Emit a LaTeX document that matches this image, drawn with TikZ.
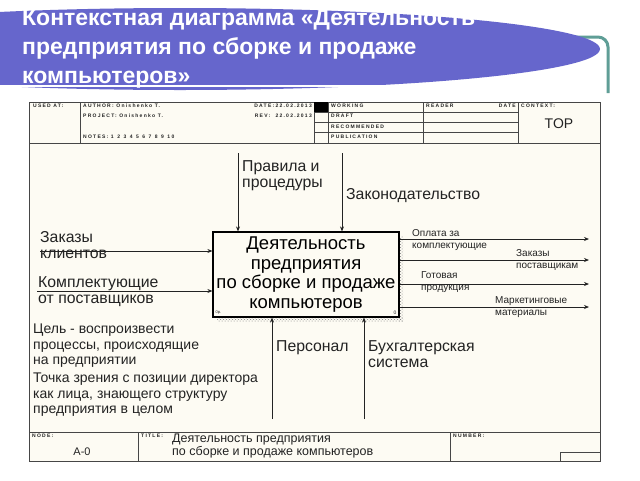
\documentclass[tikz,border=0pt]{standalone}
\usepackage{fontspec}
\setmainfont{Liberation Sans}
\newfontfamily\tinyfont[LetterSpace=25]{Liberation Sans}
\usetikzlibrary{arrows.meta,patterns}
\definecolor{titleblue}{RGB}{102,102,204}
\definecolor{tealline}{RGB}{95,158,150}
\definecolor{paper}{RGB}{253,251,243}
\definecolor{ink}{RGB}{35,35,35}
\definecolor{frame}{RGB}{70,70,70}
\tikzset{
  frameline/.style={draw=frame, line width=0.8pt},
  tiny/.style={font=\tinyfont\fontsize{5}{5.5}\selectfont\bfseries, text=ink, inner sep=0pt, anchor=north west},
  lbl/.style={font=\fontsize{15.8}{16.5}\selectfont, text=ink, inner sep=0pt, anchor=north west, align=left},
  notetxt/.style={font=\fontsize{14}{15.3}\selectfont, text=ink, inner sep=0pt, anchor=north west, align=left},
  smalltxt/.style={font=\fontsize{10}{12}\selectfont, text=ink, inner sep=0pt, anchor=north west, align=left},
  arr/.style={draw=ink, line width=0.8pt, -{Stealth[length=5pt,width=4pt]}},
  actbox/.style={draw=black, line width=1.2pt, fill=paper, minimum width=186pt, minimum height=85pt, inner sep=0pt, align=center, font=\fontsize{18.5}{19.7}\selectfont, text=black},
}
\newcommand{\ngap}{\hspace{3.5pt}}
\begin{document}
\begin{tikzpicture}[x=1pt,y=-1pt]
\useasboundingbox (0,0) rectangle (640,480);
\fill[white] (0,0) rectangle (640,480);
% teal corner line
\draw[tealline, line width=3pt, rounded corners=10pt] (520,37) -- (608,37) -- (608,93);
% blue title ellipse
\begin{scope}
\clip (0,0) rectangle (640,480);
\fill[titleblue] (180,49) ellipse [x radius=420pt, y radius=41pt];
\end{scope}
\draw[white, line width=1.5pt] (0,86) -- (470,86);
\node[anchor=north west, inner sep=0pt, align=left, text=white,
      font=\fontsize{23}{29}\selectfont\bfseries] (title) at (22,9)
  {Контекстная диаграмма «Деятельность\\предприятия по сборке и продаже\\компьютеров»};
% frame
\fill[paper] (29,102) rectangle (600,461);
\draw[frameline] (29,102) rectangle (600,461);
\draw[frameline] (29,143) -- (600,143);
\draw[frameline] (80,102) -- (80,143);
\draw[frameline] (314,102) -- (314,143);
\draw[frameline] (328,102) -- (328,143);
\draw[frameline] (423,102) -- (423,143);
\draw[frameline] (518,102) -- (518,143);
\foreach \yy in {112.3,122.5,132.8} \draw[frameline] (314,\yy) -- (518,\yy);
\fill[black] (314,102) rectangle (328,112.3);
\node[tiny] (usedat) at (33,104) {USED AT:};
\node[tiny] (author) at (83,104) {AUTHOR: Onishenko T.};
\node[tiny] (project) at (83,114) {PROJECT: Onishenko T.};
\node[tiny] (notes) at (83,135) {NOTES: 1\ngap 2\ngap 3\ngap 4\ngap 5\ngap 6\ngap 7\ngap 8\ngap 9\ngap 10};
\node[tiny, anchor=north east] (date) at (312,104) {DATE:22.02.2013};
\node[tiny, anchor=north east] (rev) at (312,114) {REV: \ 22.02.2013};
\node[tiny] (working) at (331,104) {WORKING};
\node[tiny] (draft) at (331,114.3) {DRAFT};
\node[tiny] (recom) at (331,124.5) {RECOMMENDED};
\node[tiny] (public) at (331,134.8) {PUBLICATION};
\node[tiny] (reader) at (426,104) {READER};
\node[tiny, anchor=north east] (rdate) at (516,104) {DATE};
\node[tiny] (context) at (521,104) {CONTEXT:};
\node[font=\fontsize{14}{14}\selectfont, text=ink, inner sep=0pt] (top) at (559,124) {TOP};
% footer
\draw[frameline] (29,432) -- (600,432);
\draw[frameline] (138,432) -- (138,461);
\draw[frameline] (450,432) -- (450,461);
\draw[frameline] (560,452) rectangle (600,461);
\node[tiny] (node) at (32,434) {NODE:};
\node[font=\fontsize{11}{11}\selectfont, text=ink, inner sep=0pt] (a0) at (82,452) {A-0};
\node[tiny] (ttl) at (141,434) {TITLE:};
\node[font=\fontsize{12.5}{12.8}\selectfont, text=ink, inner sep=0pt, anchor=north west, align=left] (ftitle) at (172,433.5)
  {Деятельность предприятия\\по сборке и продаже компьютеров};
\node[tiny] (number) at (453,434) {NUMBER:};
% activity box shadow and box
\fill[pattern=crosshatch dots, pattern color=gray] (399,236) rectangle (403,321);
\fill[pattern=crosshatch dots, pattern color=gray] (217,317) rectangle (403,321);
\node[actbox] (act) at (306,274.5) {Деятельность\\предприятия\\по сборке и продаже\\компьютеров};
\node[font=\fontsize{4}{4}\selectfont, text=ink, inner sep=0pt, anchor=south west] (cost) at ([xshift=3pt,yshift=3pt]act.south west) {0р.};
\node[font=\fontsize{5}{5}\selectfont, text=ink, inner sep=0pt, anchor=south east] (num) at ([xshift=-3pt,yshift=3pt]act.south east) {0};
% controls
\coordinate (c1) at (238,153);
\coordinate (c2) at (342,153);
\draw[arr] (c1) -- (c1 |- act.north);
\draw[arr] (c2) -- (c2 |- act.north);
\node[lbl] (lc1) at (242,160) {Правила и\\процедуры};
\node[lbl] (lc2) at (346,188) {Законодательство};
% inputs
\coordinate (i1) at (40,251);
\coordinate (i2) at (37,291);
\draw[arr] (i1) -- (i1 -| act.west);
\draw[arr] (i2) -- (i2 -| act.west);
\node[lbl] (li1) at (40,231) {Заказы\\клиентов};
\node[lbl] (li2) at (38,276) {Комплектующие\\от поставщиков};
% outputs
\coordinate (o1) at (589,239);
\coordinate (o2) at (589,260);
\coordinate (o3) at (589,284);
\coordinate (o4) at (589,307);
\draw[arr] (o1 -| act.east) -- (o1);
\draw[arr] (o2 -| act.east) -- (o2);
\draw[arr] (o3 -| act.east) -- (o3);
\draw[arr] (o4 -| act.east) -- (o4);
\node[smalltxt] (lo1) at (412,229.8) {Оплата за\\комплектующие};
\node[smalltxt] (lo2) at (516,249.8) {Заказы\\поставщикам};
\node[smalltxt] (lo3) at (421,271.8) {Готовая\\продукция};
\node[smalltxt] (lo4) at (495,296.8) {Маркетинговые\\материалы};
% mechanisms
\coordinate (m1) at (272,419);
\coordinate (m2) at (364,419);
\draw[arr] (m1) -- (m1 |- act.south);
\draw[arr] (m2) -- (m2 |- act.south);
\node[lbl] (lm1) at (276,340) {Персонал};
\node[lbl] (lm2) at (368,340) {Бухгалтерская\\система};
% notes
\node[notetxt] (goal) at (33,324) {Цель - воспроизвести\\процессы, происходящие\\на предприятии};
\node[notetxt] (view) at (33,373) {Точка зрения с позиции директора\\как лица, знающего структуру\\предприятия в целом};
\end{tikzpicture}
\end{document}
